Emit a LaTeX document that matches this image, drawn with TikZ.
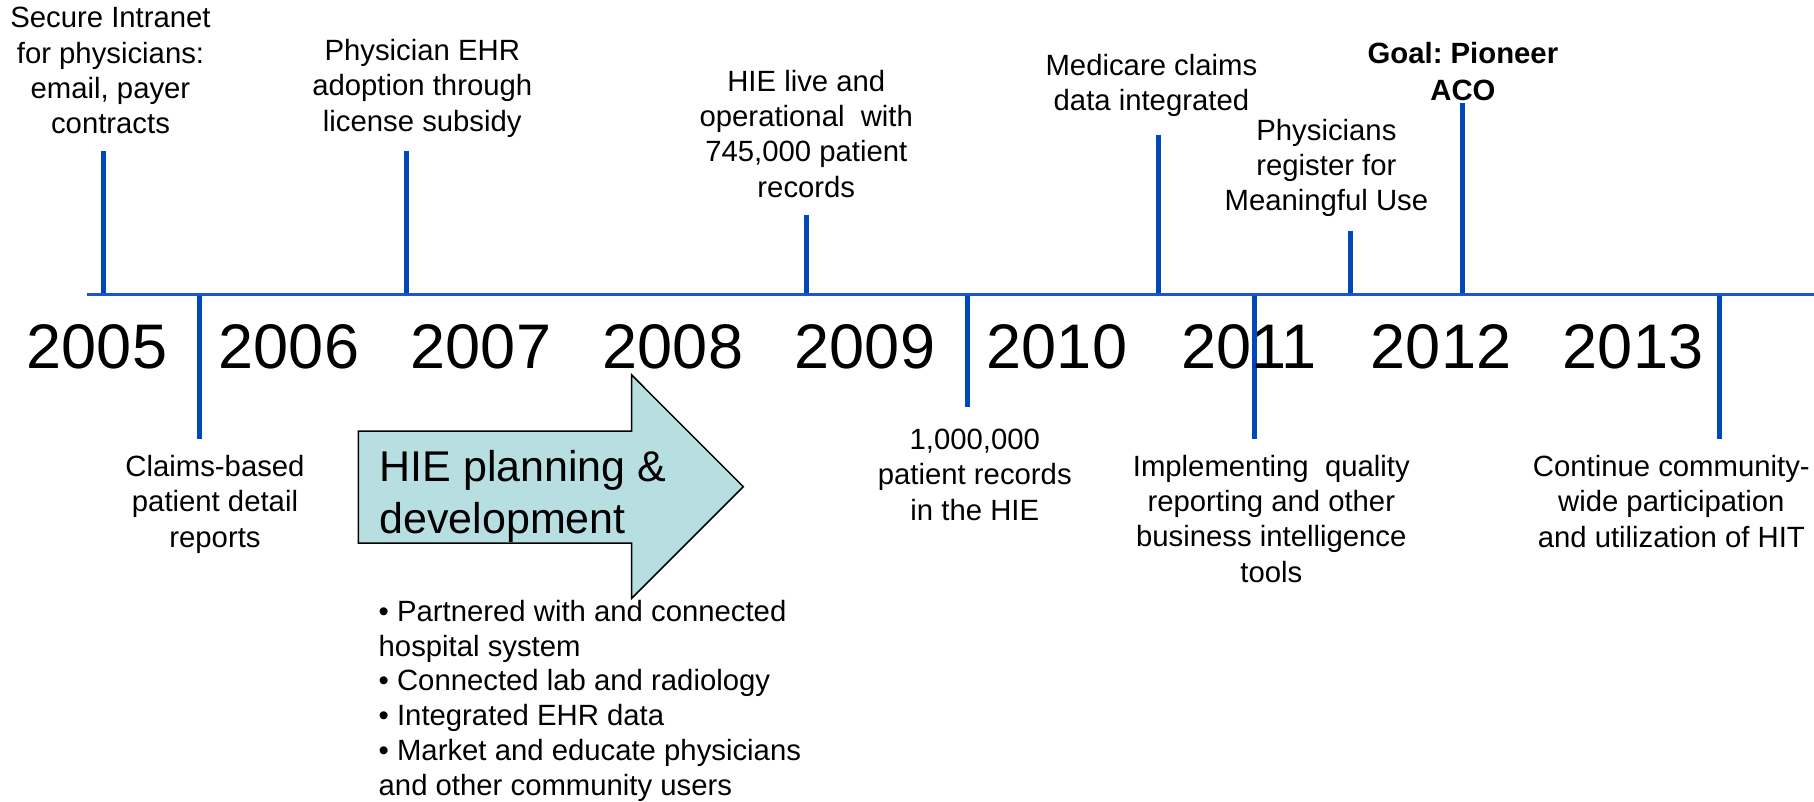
\documentclass[tikz,border=0pt]{standalone}
\usepackage{fontspec}
\setmainfont{Liberation Sans}
\frenchspacing
\definecolor{tickblue}{RGB}{0,71,187}
\definecolor{lineblue}{RGB}{30,85,200}
\definecolor{arrowfill}{RGB}{183,223,226}
\begin{document}
\begin{tikzpicture}[x=1pt,y=-1pt,
  lbl/.style={align=center,inner sep=0pt,anchor=base,font=\fontsize{29.3}{35.2}\selectfont},
  yr/.style={inner sep=0pt,anchor=base,font=\fontsize{63}{70}\selectfont},
  tickline/.style={draw=tickblue,line width=5pt},
  axisline/.style={draw=lineblue,line width=3pt},
  bigarrow/.style={draw=black,line width=1.5pt,fill=arrowfill,line join=miter}]
\useasboundingbox (0,0) rectangle (1814,801);

% timeline
\coordinate (tl0) at (86.8,294);
\coordinate (tl1) at (1814,294);

% tick coordinates
\coordinate (a1) at (103,151);    \coordinate (a1b) at (103,294);
\coordinate (a2) at (406.6,151);  \coordinate (a2b) at (406.6,294);
\coordinate (a3) at (806.3,215);  \coordinate (a3b) at (806.3,294);
\coordinate (a4) at (1158.6,135); \coordinate (a4b) at (1158.6,294);
\coordinate (a5) at (1350.7,231); \coordinate (a5b) at (1350.7,294);
\coordinate (a6) at (1462.3,103); \coordinate (a6b) at (1462.3,294);
\coordinate (b1) at (199,439);    \coordinate (b1t) at (199,294);
\coordinate (b2) at (967,407);    \coordinate (b2t) at (967,294);
\coordinate (b3) at (1254.5,439); \coordinate (b3t) at (1254.5,294);
\coordinate (b4) at (1719,439);   \coordinate (b4t) at (1719,294);

\foreach \t/\b in {a1/a1b,a2/a2b,a3/a3b,a4/a4b,a5/a5b,a6/a6b,b1t/b1,b2t/b2,b3t/b3,b4t/b4}
  \draw[tickline] (\t) -- (\b);
\draw[axisline] (tl0) -- (tl1);

% years
\foreach \y [count=\i from 0] in {2005,2006,2007,2008,2009,2010,2011,2012,2013}
  \node[yr] (y\y) at (97+192*\i,368) {\y};

% upper labels (anchor = baseline of last line)
\node[lbl] (l1) at (110.5,133.5) {Secure Intranet\\for physicians:\\email, payer\\contracts};
\node[lbl] (l2) at (422.3,131) {Physician EHR\\adoption through\\license subsidy};
\node[lbl] (l3) at (806.3,197) {HIE live and\\operational\ \ with\\745,000 patient\\records};
\node[lbl] (l4) at (1151.4,110.5) {Medicare claims\\data integrated};
\node[lbl] (l5) at (1326.4,210.5) {Physicians\\register for\\Meaningful Use};
\node[lbl,font=\fontsize{29.3}{36.5}\selectfont\bfseries] (l6) at (1462.9,100) {Goal: Pioneer\\ACO};

% lower labels
\node[lbl] (m1) at (215,547) {Claims-based\\patient detail\\reports};
\node[lbl] (m2) at (974.8,520) {1,000,000\\patient records\\in the HIE};
\node[lbl] (m3) at (1271.3,582) {Implementing\ \ quality\\reporting and other\\business intelligence\\tools};
\node[lbl] (m4) at (1671.3,547) {Continue community-\\wide participation\\and utilization of HIT};

% arrow
\draw[bigarrow] (358.3,431) -- (631.7,431) -- (631.7,375) -- (743.3,486.7)
  -- (631.7,598.3) -- (631.7,543) -- (358.3,543) -- cycle;
\node[inner sep=0pt,anchor=base west,align=left,font=\fontsize{43}{51.6}\selectfont] (hie) at (379.3,533.3) {HIE planning \&\\development};

% bullets
\node[inner sep=0pt,anchor=base west,align=left,font=\fontsize{29.3}{34.7}\selectfont] (bul) at (378.5,795)
 {\textbullet{} Partnered with and connected\\hospital system\\\textbullet{} Connected lab and radiology\\\textbullet{} Integrated EHR data\\\textbullet{} Market and educate physicians\\and other community users};
\end{tikzpicture}
\end{document}
